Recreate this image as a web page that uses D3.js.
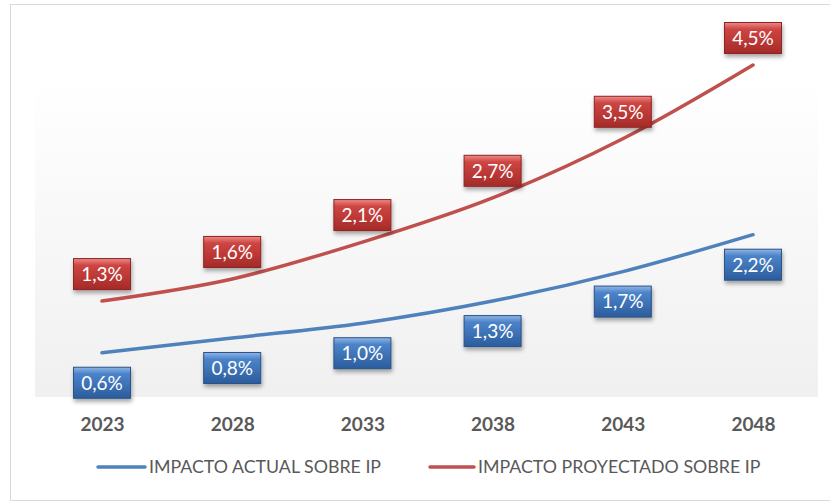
<!DOCTYPE html>
<html>
<head>
<meta charset="utf-8">
<script src="https://cdn.jsdelivr.net/npm/d3@7"></script>
<style>
  body { margin: 0; background: #fff; }
  svg { display: block; font-family: Lato, "Open Sans", sans-serif; }
</style>
</head>
<body>
<script>
// chart data
const years = ['2023','2028','2033','2038','2043','2048'];
const actual = [0.6, 0.8, 1.0, 1.3, 1.7, 2.2];
const projected = [1.3, 1.6, 2.1, 2.7, 3.5, 4.5];
const seriesNames = ['IMPACTO ACTUAL SOBRE IP','IMPACTO PROYECTADO SOBRE IP'];
const seriesColors = ['#4f81bd','#c0504d'];

const W = 830, H = 502;
const svg = d3.select("body").append("svg")
    .attr("width", W)
    .attr("height", H);

const defs = svg.append("defs");

// plot background gradient
const bg = defs.append("linearGradient").attr("id","plotbg")
    .attr("x1",0).attr("y1",0).attr("x2",0).attr("y2",1);
bg.append("stop").attr("offset","0%").attr("stop-color","#ffffff");
bg.append("stop").attr("offset","100%").attr("stop-color","#f0f0f0");

// label box gradients
function boxGrad(id, light, mid, dark){
    const g = defs.append("linearGradient").attr("id",id)
        .attr("x1",0).attr("y1",0).attr("x2",0).attr("y2",1);
    g.append("stop").attr("offset","0%").attr("stop-color",light);
    g.append("stop").attr("offset","22%").attr("stop-color",mid);
    g.append("stop").attr("offset","25%").attr("stop-color",mid);
    g.append("stop").attr("offset","100%").attr("stop-color",dark);
}
boxGrad("gBlue","#8fb6e6","#4a82c8","#2b5c9c");
boxGrad("gRed","#ef8a88","#cc4441","#a52a28");

const shadow = defs.append("filter").attr("id","shadow")
    .attr("x","-20%").attr("y","-20%").attr("width","150%").attr("height","160%");
shadow.append("feDropShadow").attr("dx",1).attr("dy",3).attr("stdDeviation",2)
    .attr("flood-color","#000").attr("flood-opacity",0.35);

// outer chart border
svg.append("rect")
    .attr("x",10.5).attr("y",4.5)
    .attr("width",W).attr("height",H-6)
    .attr("fill","#fff").attr("stroke","#d9d9d9");

// plot area
const plot = {left:35, right:818, top:78, bottom:397};
svg.append("rect")
    .attr("x",plot.left).attr("y",plot.top)
    .attr("width",plot.right-plot.left).attr("height",plot.bottom-plot.top)
    .attr("fill","url(#plotbg)");

const x = d3.scalePoint()
    .domain(years)
    .range([102, 753]);

const y = d3.scaleLinear()
    .domain([0, 4.5])
    .range([397, 65]);

// x axis labels
const xAxis = svg.append("g")
    .attr("transform","translate(0,424)")
    .call(d3.axisBottom(x).tickSize(0).tickPadding(0));
xAxis.select(".domain").remove();
xAxis.selectAll("text")
    .attr("dy","0.35em")
    .style("font-size","19px")
    .style("font-weight","bold")
    .style("font-family","Lato, 'Open Sans', sans-serif")
    .attr("fill","#595959");

const line = d3.line()
    .x((d,i) => x(years[i]))
    .y(d => y(d))
    .curve(d3.curveCatmullRom.alpha(0.5));

const series = [actual, projected];
series.forEach((vals, s) => {
    svg.append("path")
        .datum(vals)
        .attr("d", line)
        .attr("fill","none")
        .attr("stroke", seriesColors[s])
        .attr("stroke-width",3.5)
        .attr("stroke-linecap","round");
});

// data labels
const fmt = v => v.toFixed(1).replace('.', ',') + '%';
const bw = 57, bh = 31;
series.forEach((vals, s) => {
    const off = s === 0 ? 30 : -27;
    const g = svg.append("g").selectAll("g")
        .data(vals)
        .enter().append("g")
        .attr("transform",(d,i) => `translate(${x(years[i])},${y(d)+off})`);
    g.append("rect")
        .attr("x",-bw/2).attr("y",-bh/2)
        .attr("width",bw).attr("height",bh)
        .attr("fill", s === 0 ? "url(#gBlue)" : "url(#gRed)")
        .attr("stroke", s === 0 ? "#2a5287" : "#8c2523")
        .attr("stroke-width",1)
        .attr("filter","url(#shadow)");
    g.append("text")
        .attr("text-anchor","middle")
        .attr("dy","0.36em")
        .attr("fill","#fff")
        .style("font-size","19px")
        .text(d => fmt(d));
});

// legend
const legend = [
    {x1:98, x2:145, tx:149},
    {x1:430, x2:474, tx:478}
];
legend.forEach((l, s) => {
    svg.append("line")
        .attr("x1",l.x1).attr("x2",l.x2)
        .attr("y1",467).attr("y2",467)
        .attr("stroke",seriesColors[s])
        .attr("stroke-width",3.5)
        .attr("stroke-linecap","round");
    svg.append("text")
        .attr("x",l.tx).attr("y",467)
        .attr("dy","0.35em")
        .attr("fill","#595959")
        .style("font-size","17.8px")
        .text(seriesNames[s]);
});
</script>
</body>
</html>
